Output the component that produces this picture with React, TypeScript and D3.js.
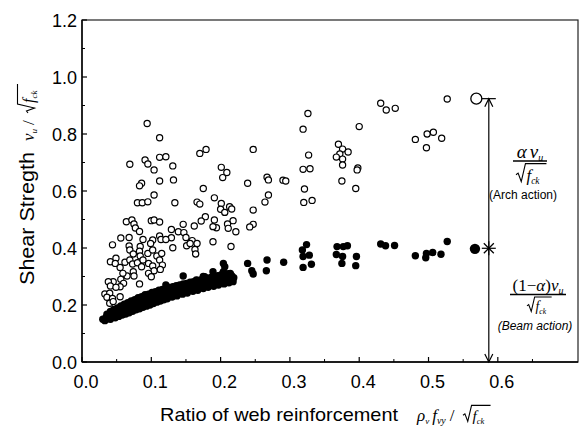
import React from "react";
import * as d3 from "d3";

// Arch action share (open circles): [ratio of web reinforcement, vu/sqrt(fck)]
const archPoints: [number, number][] = [
  [0.326, 0.872], [0.319, 0.817], [0.4, 0.826], [0.431, 0.908], [0.439, 0.884], [0.452, 0.89],
  [0.527, 0.923], [0.37, 0.764], [0.376, 0.747], [0.384, 0.737], [0.372, 0.73], [0.367, 0.719],
  [0.376, 0.712], [0.376, 0.691], [0.327, 0.726], [0.319, 0.676], [0.329, 0.678], [0.398, 0.681],
  [0.397, 0.674], [0.321, 0.607], [0.375, 0.635], [0.395, 0.609], [0.32, 0.56], [0.332, 0.567],
  [0.481, 0.781], [0.498, 0.8], [0.507, 0.806], [0.519, 0.785], [0.497, 0.752],
  [0.17, 0.732], [0.179, 0.746], [0.247, 0.746], [0.131, 0.688], [0.132, 0.639], [0.201, 0.683],
  [0.209, 0.665], [0.203, 0.647], [0.175, 0.609], [0.239, 0.627], [0.267, 0.648], [0.269, 0.639],
  [0.29, 0.638], [0.294, 0.635], [0.134, 0.559], [0.166, 0.561], [0.17, 0.554], [0.191, 0.576],
  [0.201, 0.556], [0.213, 0.545], [0.216, 0.537], [0.2, 0.536], [0.206, 0.525], [0.269, 0.586],
  [0.264, 0.561], [0.247, 0.533], [0.178, 0.51], [0.172, 0.495], [0.146, 0.483], [0.162, 0.477],
  [0.191, 0.498], [0.218, 0.496], [0.21, 0.484], [0.211, 0.469], [0.222, 0.457], [0.194, 0.471],
  [0.247, 0.483], [0.242, 0.474], [0.129, 0.465], [0.139, 0.457], [0.147, 0.454], [0.15, 0.437],
  [0.129, 0.436], [0.159, 0.426], [0.166, 0.416], [0.151, 0.408], [0.163, 0.395], [0.164, 0.379],
  [0.131, 0.401], [0.189, 0.422], [0.215, 0.405], [0.156, 0.416], [0.189, 0.475],
  [0.094, 0.837], [0.112, 0.787],
  [0.069, 0.694], [0.091, 0.709], [0.112, 0.718], [0.121, 0.72], [0.095, 0.695], [0.104, 0.674],
  [0.112, 0.635], [0.086, 0.627], [0.083, 0.618], [0.104, 0.586], [0.08, 0.559], [0.087, 0.559],
  [0.095, 0.562], [0.064, 0.492], [0.072, 0.498], [0.075, 0.484], [0.077, 0.47], [0.1, 0.496],
  [0.104, 0.498], [0.112, 0.491], [0.083, 0.458], [0.056, 0.435], [0.068, 0.437], [0.088, 0.43],
  [0.102, 0.428], [0.112, 0.442], [0.114, 0.43], [0.121, 0.43], [0.044, 0.411], [0.068, 0.407],
  [0.084, 0.405], [0.099, 0.416], [0.069, 0.393], [0.074, 0.379], [0.083, 0.389], [0.084, 0.372],
  [0.095, 0.381], [0.102, 0.393], [0.108, 0.372], [0.115, 0.381], [0.112, 0.358], [0.041, 0.352],
  [0.049, 0.364], [0.048, 0.346], [0.055, 0.332], [0.062, 0.35], [0.069, 0.358], [0.073, 0.344],
  [0.08, 0.348], [0.088, 0.358], [0.086, 0.334], [0.096, 0.346], [0.102, 0.337], [0.104, 0.32],
  [0.116, 0.34], [0.113, 0.325], [0.096, 0.311], [0.1, 0.299], [0.074, 0.317], [0.065, 0.302],
  [0.075, 0.302], [0.059, 0.311], [0.056, 0.29], [0.06, 0.276], [0.055, 0.264], [0.083, 0.274],
  [0.045, 0.282], [0.038, 0.282], [0.041, 0.267], [0.049, 0.262], [0.033, 0.239], [0.04, 0.241],
  [0.036, 0.227], [0.044, 0.223], [0.055, 0.229], [0.04, 0.206], [0.045, 0.212],
];

// Beam action share (filled circles)
const beamPoints: [number, number][] = [
  [0.324, 0.412], [0.318, 0.393], [0.328, 0.375], [0.319, 0.37], [0.319, 0.332], [0.331, 0.343],
  [0.368, 0.405], [0.377, 0.405], [0.383, 0.408], [0.367, 0.377], [0.376, 0.37], [0.396, 0.37],
  [0.375, 0.346], [0.395, 0.338], [0.431, 0.414], [0.438, 0.408], [0.451, 0.409], [0.481, 0.373],
  [0.497, 0.381], [0.506, 0.384], [0.496, 0.366], [0.518, 0.378], [0.527, 0.423],
  [0.146, 0.302], [0.204, 0.346], [0.206, 0.334], [0.239, 0.346], [0.267, 0.358], [0.266, 0.32],
  [0.291, 0.35], [0.245, 0.32], [0.247, 0.309], [0.214, 0.311], [0.218, 0.294], [0.189, 0.317],
  [0.175, 0.3], [0.165, 0.288], [0.121, 0.27], [0.177, 0.299], [0.192, 0.299], [0.204, 0.317],
  [0.03, 0.15], [0.033, 0.145], [0.035, 0.158], [0.037, 0.152], [0.04, 0.162], [0.041, 0.15],
  [0.043, 0.168], [0.045, 0.158], [0.047, 0.172], [0.048, 0.155], [0.05, 0.165], [0.052, 0.178],
  [0.053, 0.16], [0.055, 0.17], [0.057, 0.182], [0.058, 0.165], [0.06, 0.175], [0.062, 0.188],
  [0.063, 0.168], [0.065, 0.18], [0.067, 0.192], [0.068, 0.173], [0.07, 0.185], [0.072, 0.198],
  [0.073, 0.178], [0.075, 0.19], [0.077, 0.202], [0.078, 0.183], [0.08, 0.195], [0.082, 0.208],
  [0.083, 0.187], [0.085, 0.2], [0.087, 0.212], [0.088, 0.192], [0.09, 0.205], [0.092, 0.218],
  [0.093, 0.196], [0.095, 0.21], [0.097, 0.222], [0.098, 0.2], [0.1, 0.213], [0.102, 0.228],
  [0.103, 0.205], [0.105, 0.218], [0.107, 0.232], [0.108, 0.21], [0.11, 0.222], [0.112, 0.236],
  [0.113, 0.214], [0.115, 0.226], [0.117, 0.24], [0.118, 0.218], [0.12, 0.23], [0.122, 0.244],
  [0.123, 0.222], [0.125, 0.234], [0.128, 0.248], [0.13, 0.228], [0.132, 0.24], [0.135, 0.252],
  [0.137, 0.232], [0.14, 0.245], [0.142, 0.258], [0.145, 0.238], [0.147, 0.25], [0.15, 0.262],
  [0.152, 0.242], [0.155, 0.255], [0.157, 0.266], [0.16, 0.248], [0.162, 0.26], [0.165, 0.272],
  [0.167, 0.252], [0.17, 0.265], [0.172, 0.276], [0.175, 0.258], [0.177, 0.27], [0.18, 0.282],
  [0.182, 0.262], [0.185, 0.275], [0.188, 0.286], [0.19, 0.266], [0.192, 0.279], [0.195, 0.29],
  [0.197, 0.27], [0.2, 0.284], [0.203, 0.296], [0.205, 0.274], [0.207, 0.288], [0.21, 0.3],
  [0.212, 0.278], [0.215, 0.292], [0.218, 0.282],
  [0.036, 0.168], [0.041, 0.177], [0.046, 0.184], [0.051, 0.19], [0.056, 0.197], [0.061, 0.203],
  [0.066, 0.208], [0.071, 0.214], [0.076, 0.219], [0.081, 0.226], [0.086, 0.229], [0.091, 0.236],
  [0.096, 0.238], [0.101, 0.244], [0.106, 0.247], [0.111, 0.252], [0.116, 0.255], [0.121, 0.258],
  [0.126, 0.262], [0.131, 0.264], [0.136, 0.268], [0.141, 0.27], [0.146, 0.274], [0.151, 0.276],
  [0.156, 0.28], [0.161, 0.282], [0.166, 0.286], [0.171, 0.288], [0.176, 0.291], [0.181, 0.294],
  [0.186, 0.297], [0.191, 0.3], [0.196, 0.303], [0.201, 0.306], [0.206, 0.309], [0.211, 0.31],
  [0.216, 0.303], [0.219, 0.296],
];

// large markers: arch / beam values at the highest ratio
const archMean: [number, number] = [0.569, 0.924];
const beamMean: [number, number] = [0.567, 0.397];
const splitX = 0.587;
const splitY = 0.399;

const xTicks = [0, 0.1, 0.2, 0.3, 0.4, 0.5, 0.6];
const yTicks = [0, 0.2, 0.4, 0.6, 0.8, 1.0, 1.2];

const W = 582;
const H = 427;
const M = { left: 82, right: 578, top: 20, bottom: 362 };

const sans = "'Liberation Sans', Arial, sans-serif";
const serif = "'Liberation Serif', 'Times New Roman', serif";

// radical sign + f_ck, drawn from (x, baseline y)
const SqrtF = ({ x, y, s = 1 }: { x: number; y: number; s?: number }) => {
  const w = 20 * s;
  return (
    <g>
      <path
        d={`M${x},${y - 6 * s} l${2 * s},${-1.5 * s} l${3 * s},${8 * s} l${4 * s},${-17 * s} h${w}`}
        fill="none"
        stroke="#000"
        strokeWidth={1.1}
      />
      <text x={x + 10 * s} y={y} fontFamily={serif} fontStyle="italic" fontSize={16 * s}>
        f<tspan dy={3 * s} fontSize={9 * s}>ck</tspan>
      </text>
    </g>
  );
};

export default function App() {
  const x = d3.scaleLinear().domain([0, 0.7157]).range([M.left, M.right]);
  const y = d3.scaleLinear().domain([0, 1.2]).range([M.bottom, M.top]);

  const xMinor = d3.range(0.05, 0.71, 0.1);
  const yMinor = d3.range(0.1, 1.2, 0.2);

  const ax = x(splitX);
  const yTop = y(archMean[1]);
  const yMid = y(splitY);
  const yBot = y(0);

  return (
    <svg
      width={W}
      height={H}
      style={{ position: "absolute", left: 0, top: 0, background: "#fff" }}
    >
      {/* frame */}
      <rect
        x={M.left}
        y={M.top}
        width={M.right - M.left}
        height={M.bottom - M.top}
        fill="none"
        stroke="#222"
        strokeWidth={1.2}
      />
      <line x1={M.left} x2={M.left} y1={M.top} y2={M.bottom} stroke="#000" strokeWidth={1.4} />
      <line x1={M.left} x2={M.right} y1={M.bottom} y2={M.bottom} stroke="#000" strokeWidth={1.4} />

      {/* ticks */}
      {yTicks.map((t) => (
        <g key={"y" + t}>
          <line x1={M.left} x2={M.left + 5} y1={y(t)} y2={y(t)} stroke="#000" strokeWidth={1.2} />
          <text x={77} y={y(t) + 6.5} textAnchor="end" fontFamily={sans} fontSize={18}>
            {t.toFixed(1)}
          </text>
        </g>
      ))}
      {yMinor.map((t) => (
        <line key={"ym" + t} x1={M.left} x2={M.left + 3} y1={y(t)} y2={y(t)} stroke="#000" />
      ))}
      {xTicks.map((t) => (
        <g key={"x" + t}>
          <line x1={x(t)} x2={x(t)} y1={M.bottom} y2={M.bottom - 5} stroke="#000" strokeWidth={1.2} />
          <text x={x(t) + 4} y={388} textAnchor="middle" fontFamily={sans} fontSize={18}>
            {t.toFixed(1)}
          </text>
        </g>
      ))}
      {xMinor.map((t) => (
        <line key={"xm" + t} x1={x(t)} x2={x(t)} y1={M.bottom} y2={M.bottom - 3} stroke="#000" />
      ))}

      {/* data */}
      {beamPoints.map((d, i) => (
        <circle key={"b" + i} cx={x(d[0])} cy={y(d[1])} r={3.7} fill="#000" />
      ))}
      {archPoints.map((d, i) => (
        <circle
          key={"a" + i}
          cx={x(d[0])}
          cy={y(d[1])}
          r={3.1}
          fill="#fff"
          stroke="#000"
          strokeWidth={1.2}
        />
      ))}
      <circle cx={x(archMean[0])} cy={y(archMean[1])} r={5.5} fill="#fff" stroke="#000" strokeWidth={1.3} />
      <circle cx={x(beamMean[0])} cy={y(beamMean[1])} r={5.2} fill="#000" />

      {/* split arrow */}
      <g stroke="#000" strokeWidth={1.2} fill="none">
        <line x1={ax} x2={ax} y1={yTop} y2={yBot} />
        <line x1={ax - 7} x2={ax + 7} y1={yTop} y2={yTop} />
        <path d={`M${ax - 4},${yTop + 8} L${ax},${yTop} L${ax + 4},${yTop + 8}`} />
        <path d={`M${ax - 4},${yBot - 8} L${ax},${yBot} L${ax + 4},${yBot - 8}`} />
        <line x1={ax - 7} x2={ax + 7} y1={yMid} y2={yMid} />
        <line x1={ax} x2={ax} y1={yMid - 7} y2={yMid + 7} />
        <line x1={ax - 5} x2={ax + 5} y1={yMid - 5} y2={yMid + 5} />
        <line x1={ax - 5} x2={ax + 5} y1={yMid + 5} y2={yMid - 5} />
      </g>

      {/* arch annotation */}
      <text x={530} y={158} textAnchor="middle" fontFamily={serif} fontStyle="italic" fontSize={19}>
        α<tspan dx={3}>v</tspan>
        <tspan dy={3} fontSize={10}>u</tspan>
      </text>
      <line x1={513} x2={547} y1={161} y2={161} stroke="#000" strokeWidth={1.6} />
      <SqrtF x={516} y={181} s={1.05} />
      <text x={523} y={199} textAnchor="middle" fontFamily={sans} fontSize={12}>
        (Arch action)
      </text>

      {/* beam annotation */}
      <text x={538} y={291} textAnchor="middle" fontFamily={serif} fontSize={17}>
        (1−<tspan fontStyle="italic">α</tspan>)<tspan fontStyle="italic">v</tspan>
        <tspan dy={3} fontSize={10} fontStyle="italic">u</tspan>
      </text>
      <line x1={510} x2={566} y1={294.5} y2={294.5} stroke="#000" strokeWidth={1.4} />
      <SqrtF x={527} y={311} s={0.85} />
      <text x={535} y={330} textAnchor="middle" fontFamily={sans} fontStyle="italic" fontSize={12}>
        (Beam action)
      </text>

      {/* x title */}
      <text x={160} y={421} fontFamily={sans} fontSize={19} textLength={238} lengthAdjust="spacingAndGlyphs">
        Ratio of web reinforcement
      </text>
      <text x={417} y={421} fontFamily={serif} fontStyle="italic" fontSize={17}>
        ρ<tspan dy={3} fontSize={9}>v</tspan>
        <tspan dy={-3} dx={3}>f</tspan>
        <tspan dy={3} fontSize={10}>vy</tspan>
        <tspan dy={-3} dx={4} fontStyle="normal">/</tspan>
      </text>
      <SqrtF x={463} y={421} s={0.95} />

      {/* y title */}
      <g transform="translate(34,0) rotate(-90)">
        <text x={-285} y={0} fontFamily={sans} fontSize={20} textLength={133} lengthAdjust="spacingAndGlyphs">
          Shear Stregth
        </text>
        <text x={-141} y={0} fontFamily={serif} fontStyle="italic" fontSize={17}>
          v<tspan dy={3} fontSize={9}>u</tspan>
          <tspan dy={-3} dx={4} fontStyle="normal">/</tspan>
        </text>
        <SqrtF x={-113} y={0} s={1.0} />
      </g>
    </svg>
  );
}
